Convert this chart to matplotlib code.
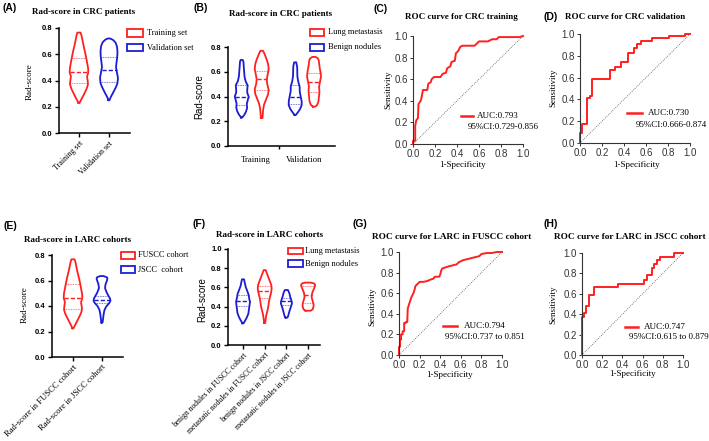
import numpy as np
import matplotlib
matplotlib.use('Agg')
import matplotlib.pyplot as plt
from matplotlib.patches import Rectangle
from matplotlib.lines import Line2D

# ---------------- data ----------------
# violin profiles: value levels and relative density (half-width units)
A_cats = ['Training set', 'Validation set']
A_train_y = [0.23, 0.25, 0.28, 0.31, 0.34, 0.37, 0.40, 0.43, 0.46, 0.49, 0.53, 0.57, 0.61, 0.65, 0.69, 0.72, 0.745, 0.765]
A_train_d = [0.5, 2.0, 4.0, 6.0, 7.8, 9.0, 8.7, 8.0, 9.3, 9.2, 8.3, 7.3, 6.3, 5.0, 3.8, 3.0, 2.5, 1.5]
A_train_q = [0.383, 0.467, 0.569]
A_val_y = [0.25, 0.27, 0.29, 0.32, 0.35, 0.38, 0.42, 0.46, 0.50, 0.54, 0.58, 0.62, 0.66, 0.69, 0.71, 0.72]
A_val_d = [0.5, 1.5, 3.0, 5.0, 7.0, 8.5, 9.0, 8.0, 7.0, 7.5, 8.3, 8.5, 8.0, 6.5, 4.0, 1.0]
A_val_q = [0.39, 0.48, 0.58]

B_groups = ['Training', 'Validation']
B_ben_tr_y = [0.23, 0.25, 0.28, 0.31, 0.34, 0.37, 0.40, 0.43, 0.46, 0.49, 0.52, 0.56, 0.60, 0.64, 0.68, 0.695]
B_ben_tr_d = [0.5, 2.5, 4.5, 5.5, 5.0, 6.0, 7.0, 5.5, 5.5, 6.0, 4.0, 2.8, 2.5, 2.0, 1.8, 1.0]
B_ben_tr_q = [0.33, 0.40, 0.49]
B_met_tr_y = [0.226, 0.25, 0.30, 0.34, 0.38, 0.42, 0.46, 0.50, 0.54, 0.58, 0.62, 0.66, 0.70, 0.73, 0.76, 0.77]
B_met_tr_d = [0.8, 1.0, 1.5, 2.5, 4.5, 6.5, 7.0, 5.5, 5.0, 6.0, 7.0, 6.5, 5.0, 3.5, 2.0, 1.0]
B_met_tr_q = [0.45, 0.54, 0.61]
B_ben_va_y = [0.25, 0.27, 0.30, 0.33, 0.36, 0.40, 0.44, 0.48, 0.52, 0.56, 0.60, 0.64, 0.676]
B_ben_va_d = [0.5, 2.5, 5.0, 6.5, 6.5, 5.5, 4.5, 4.5, 3.0, 2.2, 2.0, 2.0, 1.0]
B_ben_va_q = [0.34, 0.40, 0.49]
B_met_va_y = [0.318, 0.33, 0.36, 0.40, 0.44, 0.48, 0.52, 0.56, 0.60, 0.64, 0.68, 0.70, 0.715, 0.72]
B_met_va_d = [1.0, 3.0, 4.5, 5.0, 5.5, 5.0, 6.0, 7.0, 6.5, 5.5, 5.0, 4.5, 3.0, 1.0]
B_met_va_q = [0.44, 0.52, 0.59]

E_cats = ['Rad-score in FUSCC cohort', 'Rad-score in JSCC cohort']
E_fu_y = [0.225, 0.25, 0.28, 0.31, 0.34, 0.37, 0.40, 0.43, 0.46, 0.49, 0.53, 0.57, 0.61, 0.65, 0.69, 0.72, 0.745, 0.766]
E_fu_d = [0.5, 2.0, 4.0, 6.0, 7.8, 9.0, 8.7, 8.0, 9.3, 9.2, 8.3, 7.3, 6.3, 5.0, 3.8, 3.0, 2.5, 1.5]
E_fu_q = [0.374, 0.46, 0.57]
E_js_y = [0.27, 0.29, 0.33, 0.37, 0.40, 0.42, 0.44, 0.46, 0.50, 0.54, 0.57, 0.60, 0.62, 0.63, 0.635]
E_js_d = [0.5, 1.0, 1.5, 2.5, 4.5, 7.0, 8.5, 8.0, 5.0, 3.0, 3.5, 5.0, 5.5, 4.0, 1.0]
E_js_q = [0.42, 0.447, 0.48]

F_cats = ['benign nodules in FUSCC cohort', 'metastatic nodules in FUSCC cohort',
          'benign nodules in JSCC cohort', 'metastatic nodules in JSCC cohort']
F_b1_y = [0.226, 0.25, 0.29, 0.33, 0.37, 0.41, 0.45, 0.49, 0.53, 0.57, 0.61, 0.65, 0.684]
F_b1_d = [0.5, 2.0, 4.0, 5.5, 6.0, 6.5, 7.0, 6.0, 5.5, 4.0, 2.5, 1.8, 1.0]
F_b1_q = [0.406, 0.458, 0.517]
F_m1_y = [0.23, 0.27, 0.31, 0.35, 0.39, 0.43, 0.47, 0.51, 0.55, 0.59, 0.63, 0.67, 0.71, 0.75, 0.78]
F_m1_d = [0.5, 1.0, 1.5, 2.5, 3.5, 4.0, 4.5, 5.5, 6.5, 7.0, 6.5, 5.0, 3.5, 2.0, 1.0]
F_m1_q = [0.49, 0.566, 0.61]
F_b2_y = [0.285, 0.30, 0.33, 0.37, 0.40, 0.43, 0.45, 0.48, 0.51, 0.54, 0.573]
F_b2_d = [0.8, 1.8, 2.5, 3.5, 4.5, 5.5, 5.5, 4.5, 3.5, 3.0, 1.5]
F_b2_q = [0.417, 0.458, 0.49]
F_m2_y = [0.357, 0.37, 0.40, 0.43, 0.46, 0.50, 0.54, 0.58, 0.61, 0.63, 0.645, 0.65]
F_m2_d = [2.5, 4.5, 5.5, 5.5, 4.5, 3.5, 4.0, 5.5, 6.8, 7.0, 5.5, 2.0]
F_m2_q = [0.44, 0.52, 0.61]

# ROC curves (1-specificity, sensitivity)
C_fpr = [0, 0, 0.02, 0.02, 0.03, 0.045, 0.05, 0.07, 0.08, 0.09, 0.13, 0.14, 0.16, 0.17, 0.19, 0.25, 0.27, 0.30, 0.31, 0.34,
         0.35, 0.38, 0.39, 0.41, 0.43, 0.45, 0.56, 0.58, 0.60, 0.68, 0.72, 0.76, 0.78, 0.97, 1.0]
C_tpr = [0, 0.03, 0.03, 0.17, 0.22, 0.24, 0.37, 0.40, 0.44, 0.50, 0.50, 0.56, 0.57, 0.60, 0.62, 0.62, 0.65, 0.66, 0.70, 0.72,
         0.76, 0.77, 0.84, 0.86, 0.90, 0.91, 0.91, 0.93, 0.95, 0.95, 0.97, 0.97, 0.99, 0.99, 1.0]
D_fpr = [0, 0, 0.02, 0.02, 0.06, 0.06, 0.09, 0.09, 0.11, 0.11, 0.27, 0.27, 0.32, 0.32, 0.37, 0.37, 0.44, 0.44, 0.49, 0.49,
         0.52, 0.52, 0.55, 0.55, 0.65, 0.65, 0.81, 0.81, 0.95, 0.95, 1.0]
D_tpr = [0, 0.09, 0.09, 0.17, 0.17, 0.41, 0.41, 0.43, 0.43, 0.59, 0.59, 0.67, 0.67, 0.70, 0.70, 0.74, 0.74, 0.83, 0.83, 0.87,
         0.87, 0.91, 0.91, 0.94, 0.94, 0.96, 0.96, 0.98, 0.98, 1.0, 1.0]
G_fpr = [0, 0, 0.01, 0.01, 0.02, 0.02, 0.035, 0.035, 0.05, 0.05, 0.065, 0.065, 0.08, 0.085, 0.10, 0.11, 0.12, 0.13, 0.14, 0.15,
         0.16, 0.18, 0.20, 0.24, 0.28, 0.30, 0.33, 0.35, 0.39, 0.40, 0.41, 0.42, 0.45, 0.48, 0.52, 0.56, 0.58, 0.62, 0.66, 0.70,
         0.74, 0.78, 0.80, 0.85, 0.90, 0.95, 1.0]
G_tpr = [0, 0.08, 0.08, 0.15, 0.15, 0.20, 0.20, 0.23, 0.23, 0.31, 0.31, 0.32, 0.32, 0.45, 0.50, 0.53, 0.56, 0.58, 0.60, 0.63,
         0.67, 0.69, 0.71, 0.71, 0.72, 0.73, 0.74, 0.76, 0.76, 0.78, 0.82, 0.84, 0.85, 0.86, 0.87, 0.88, 0.90, 0.92, 0.93, 0.94,
         0.95, 0.96, 0.98, 0.99, 0.99, 1.0, 1.0]
H_fpr = [0, 0, 0.02, 0.02, 0.04, 0.04, 0.07, 0.07, 0.12, 0.12, 0.36, 0.36, 0.61, 0.61, 0.64, 0.64, 0.69, 0.69, 0.71, 0.71,
         0.74, 0.74, 0.77, 0.77, 0.91, 0.91, 1.0]
H_tpr = [0, 0.37, 0.37, 0.41, 0.41, 0.48, 0.48, 0.59, 0.59, 0.67, 0.67, 0.70, 0.70, 0.74, 0.74, 0.78, 0.78, 0.85, 0.85, 0.89,
         0.89, 0.93, 0.93, 0.96, 0.96, 1.0, 1.0]

C_auc, C_ci = 'AUC:0.793', '95%CI:0.729-0.856'
D_auc, D_ci = 'AUC:0.730', '95%CI:0.666-0.874'
G_auc, G_ci = 'AUC:0.794', '95%CI:0.737 to 0.851'
H_auc, H_ci = 'AUC:0.747', '95%CI:0.615 to 0.879'

# ---------------- drawing ----------------
W, H = 709, 441
fig = plt.figure(figsize=(W / 100, H / 100), dpi=100)
SERIF = 'Liberation Serif'
SANS = 'Liberation Sans'
RED = '#ff2020'
BLUE = '#1c1cd2'


def fx(x):
    return x / W


def fy(y):
    return 1 - y / H


def add_ax(x0, y0, x1, y1):
    return fig.add_axes([x0 / W, 1 - y1 / H, (x1 - x0) / W, (y1 - y0) / H])


def ftext(x, y, s, **kw):
    kw.setdefault('ha', 'center')
    kw.setdefault('va', 'center')
    fig.text(fx(x), fy(y), s, **kw)


def violin(ax, pos, ys, dens, q, color, scale):
    ys = np.asarray(ys, float)
    d = np.asarray(dens, float) * scale
    yy = np.linspace(ys[0], ys[-1], 240)
    ww = np.interp(yy, ys, d)
    k = np.ones(5) / 5
    ww = np.convolve(np.pad(ww, 2, mode='edge'), k, mode='valid')
    xs = np.concatenate([pos - ww, (pos + ww)[::-1], [pos - ww[0]]])
    y2 = np.concatenate([yy, yy[::-1], [yy[0]]])
    ax.plot(xs, y2, color=color, lw=1.3, solid_joinstyle='round')
    for i, qv in enumerate(q):
        w = np.interp(qv, yy, ww)
        if i == 1:
            ax.plot([pos - w, pos + w], [qv, qv], color=color, lw=1.0, ls=(0, (3, 1.5)))
        else:
            ax.plot([pos - w, pos + w], [qv, qv], color=color, lw=0.6, ls=(0, (1, 1)), alpha=0.8)


def style_violin(ax, ylim, yticks):
    for s in ['top', 'right']:
        ax.spines[s].set_visible(False)
    for s in ['left', 'bottom']:
        ax.spines[s].set_linewidth(1.1)
    ax.set_ylim(*ylim)
    ax.set_yticks(yticks)
    ax.set_yticklabels([f'{v:.1f}' for v in yticks], fontfamily=SANS, fontweight='bold', fontsize=5.5)
    ax.tick_params(axis='both', length=3, width=1, pad=1.5)
    ax.patch.set_alpha(0)


def legend_boxes(x0, x1, ys, h, labels, colors, tx, fs=6):
    for y, lab, c in zip(ys, labels, colors):
        fig.add_artist(Rectangle((fx(x0), fy(y + h / 2)), (x1 - x0) / W, h / H,
                                 facecolor='white', edgecolor=c, lw=1.3, transform=fig.transFigure))
        ftext(tx, y, lab, ha='left', fontfamily=SERIF, fontsize=fs)


def roc(ax, fpr, tpr, auc, ci, leg):
    ax.plot([0, 1], [0, 1], color='#555555', lw=0.6, ls=(0, (1, 1.5)))
    ax.plot(fpr, tpr, color=RED, lw=1.4, clip_on=False)
    ax.set_xlim(0, 1)
    ax.set_ylim(0, 1)
    for s in ['top', 'right']:
        ax.spines[s].set_visible(False)
    for s in ['left', 'bottom']:
        ax.spines[s].set_linewidth(0.8)
        ax.spines[s].set_color('#333333')
    t = np.round(np.arange(0, 1.01, 0.2), 1)
    ax.set_xticks(t)
    ax.set_yticks(t)
    ax.set_xticklabels([f'{v:.1f}' for v in t], fontfamily=SANS, fontsize=7, color='#333333')
    ax.set_yticklabels([f'{v:.1f}' for v in t], fontfamily=SANS, fontsize=7, color='#333333')
    ax.tick_params(length=2, width=0.7, pad=1.5, colors='#333333')
    lx0, lx1, ly, tx, cy, cx = leg
    fig.add_artist(Line2D([fx(lx0), fx(lx1)], [fy(ly), fy(ly)], color=RED, lw=1.8, transform=fig.transFigure))
    ftext(tx, ly, auc, ha='left', fontfamily=SERIF, fontsize=6.5)
    ftext(cx, cy, ci, ha='left', fontfamily=SERIF, fontsize=6.5)


# ----- Panel A -----
axA = add_ax(59, 28, 130, 133)
sA = 1 / 30.0
violin(axA, 0, A_train_y, A_train_d, A_train_q, RED, sA)
violin(axA, 1, A_val_y, A_val_d, A_val_q, BLUE, sA)
axA.set_xlim((59 - 79) / 30, (130 - 79) / 30)
style_violin(axA, (0, 0.8), [0, 0.2, 0.4, 0.6, 0.8])
axA.set_xticks([0, 1])
axA.set_xticklabels(A_cats, rotation=45, ha='right', va='top', rotation_mode='anchor',
                    fontfamily=SERIF, fontsize=5.8)
ftext(30, 82, 'Rad-score', rotation=90, fontfamily=SERIF, fontsize=6.5)
ftext(84, 12, 'Rad-score in CRC patients', fontfamily=SERIF, fontweight='bold', fontsize=6.5)
ftext(10, 8, '(A)', fontfamily=SANS, fontweight='bold', fontsize=7.5)
legend_boxes(127, 143, [33, 47.5], 7.5, A_cats, [RED, BLUE], 147)

# ----- Panel B -----
axB = add_ax(228, 47, 335, 146)
uB = 53.5
pB = [0, 20 / uB, 1.0, 72.3 / uB]
violin(axB, pB[0], B_ben_tr_y, B_ben_tr_d, B_ben_tr_q, BLUE, 1 / uB)
violin(axB, pB[1], B_met_tr_y, B_met_tr_d, B_met_tr_q, RED, 1 / uB)
violin(axB, pB[2], B_ben_va_y, B_ben_va_d, B_ben_va_q, BLUE, 1 / uB)
violin(axB, pB[3], B_met_va_y, B_met_va_d, B_met_va_q, RED, 1 / uB)
axB.set_xlim((228 - 241.7) / uB, (335 - 241.7) / uB)
style_violin(axB, (0, 0.8), [0, 0.2, 0.4, 0.6, 0.8])
axB.set_xticks([(256 - 241.7) / uB, (304 - 241.7) / uB])
axB.set_xticklabels(B_groups, fontfamily=SERIF, fontsize=6.3)
axB.tick_params(axis='x', length=0, pad=7)
axB.set_xticks([(279 - 241.7) / uB], minor=True)
axB.tick_params(axis='x', which='minor', length=2, width=1)
ftext(199, 97, 'Rad-score', rotation=90, fontfamily=SANS, fontsize=7)
ftext(281, 14, 'Rad-score in CRC patients', fontfamily=SERIF, fontweight='bold', fontsize=6.5)
ftext(201, 8, '(B)', fontfamily=SANS, fontweight='bold', fontsize=7.5)
legend_boxes(310, 324, [32.5, 47], 7, ['Lung metastasis', 'Benign nodules'], [RED, BLUE], 328)

# ----- Panel C -----
axC = add_ax(413, 36, 523, 144)
roc(axC, C_fpr, C_tpr, C_auc, C_ci, (461, 473, 116, 477, 127, 468))
ftext(388, 90, 'Sensitivity', rotation=90, fontfamily=SERIF, fontsize=6.5)
ftext(463, 165, '1-Specificity', fontfamily=SERIF, fontsize=6.5)
ftext(461, 17, 'ROC curve for CRC training', fontfamily=SERIF, fontweight='bold', fontsize=6.5)
ftext(381, 9, '(C)', fontfamily=SANS, fontweight='bold', fontsize=7.5)

# ----- Panel D -----
axD = add_ax(580, 34, 690, 143)
roc(axD, D_fpr, D_tpr, D_auc, D_ci, (627, 642, 113, 648, 125, 636))
ftext(553, 88, 'Sensitivity', rotation=90, fontfamily=SERIF, fontsize=6.5)
ftext(637, 165, '1-Specificity', fontfamily=SERIF, fontsize=6.5)
ftext(625, 17, 'ROC curve for CRC validation', fontfamily=SERIF, fontweight='bold', fontsize=6.5)
ftext(551, 17, '(D)', fontfamily=SANS, fontweight='bold', fontsize=7.5)

# ----- Panel E -----
axE = add_ax(52, 255, 123, 357)
uE = 29.0
violin(axE, 0, E_fu_y, E_fu_d, E_fu_q, RED, 1 / uE)
violin(axE, 1, E_js_y, E_js_d, E_js_q, BLUE, 1 / uE)
axE.set_xlim((52 - 73) / uE, (123 - 73) / uE)
style_violin(axE, (0, 0.8), [0, 0.2, 0.4, 0.6, 0.8])
axE.set_xticks([0, 1])
axE.set_xticklabels(E_cats, rotation=45, ha='right', va='top', rotation_mode='anchor',
                    fontfamily=SERIF, fontsize=6.2)
ftext(25, 305, 'Rad-score', rotation=90, fontfamily=SERIF, fontsize=6.5)
ftext(78, 240, 'Rad-score in LARC cohorts', fontfamily=SERIF, fontweight='bold', fontsize=6.5)
ftext(10, 226, '(E)', fontfamily=SANS, fontweight='bold', fontsize=7.5)
legend_boxes(121, 135, [255, 269.5], 7, ['FUSCC cohort', 'JSCC  cohort'], [RED, BLUE], 138)

# ----- Panel F -----
axF = add_ax(228, 249, 320, 345)
uF = 21.7
violin(axF, 0, F_b1_y, F_b1_d, F_b1_q, BLUE, 1 / uF)
violin(axF, 1, F_m1_y, F_m1_d, F_m1_q, RED, 1 / uF)
violin(axF, 2, F_b2_y, F_b2_d, F_b2_q, BLUE, 1 / uF)
violin(axF, 3, F_m2_y, F_m2_d, F_m2_q, RED, 1 / uF)
axF.set_xlim((228 - 243) / uF, (320 - 243) / uF)
style_violin(axF, (0, 1.0), [0, 0.2, 0.4, 0.6, 0.8, 1.0])
axF.set_xticks([0, 1, 2, 3])
axF.set_xticklabels(F_cats, rotation=45, ha='right', va='top', rotation_mode='anchor',
                    fontfamily=SERIF, fontsize=5.5)
ftext(202, 300, 'Rad-score', rotation=90, fontfamily=SANS, fontsize=7)
ftext(270, 235, 'Rad-score in LARC cohorts', fontfamily=SERIF, fontweight='bold', fontsize=6.5)
ftext(199, 224, '(F)', fontfamily=SANS, fontweight='bold', fontsize=7.5)
legend_boxes(288, 303, [251, 263.5], 6.5, ['Lung metastasis', 'Benign nodules'], [RED, BLUE], 305)

# ----- Panel G -----
axG = add_ax(399, 252, 502, 355)
roc(axG, G_fpr, G_tpr, G_auc, G_ci, (443, 457, 326, 464, 337, 445))
ftext(372, 307, 'Sensitivity', rotation=90, fontfamily=SERIF, fontsize=6.5)
ftext(450, 375, '1-Specificity', fontfamily=SERIF, fontsize=6.5)
ftext(452, 237, 'ROC curve for LARC in FUSCC cohort', fontfamily=SERIF, fontweight='bold', fontsize=6.7)
ftext(360, 224, '(G)', fontfamily=SANS, fontweight='bold', fontsize=7.5)

# ----- Panel H -----
axH = add_ax(582, 253, 683, 355)
roc(axH, H_fpr, H_tpr, H_auc, H_ci, (625, 638, 327, 644, 337, 629))
ftext(553, 305, 'Sensitivity', rotation=90, fontfamily=SERIF, fontsize=6.5)
ftext(633, 374, '1-Specificity', fontfamily=SERIF, fontsize=6.5)
ftext(630, 237, 'ROC curve for LARC in JSCC cohort', fontfamily=SERIF, fontweight='bold', fontsize=6.7)
ftext(551, 224, '(H)', fontfamily=SANS, fontweight='bold', fontsize=7.5)

fig.savefig('out.png', dpi=100)
